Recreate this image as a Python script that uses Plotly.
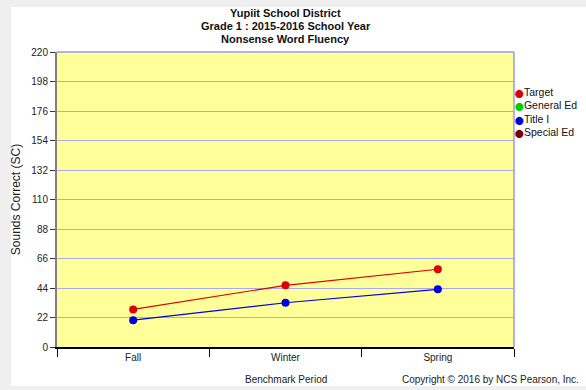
import plotly.graph_objects as go

periods = ["Fall", "Winter", "Spring"]
target = [28, 46, 58]
general_ed = [None, None, None]
title_i = [20, 33, 43]
special_ed = [None, None, None]
y_ticks = [0, 22, 44, 66, 88, 110, 132, 154, 176, 198, 220]
title_lines = ["Yupiit School District", "Grade 1 : 2015-2016 School Year", "Nonsense Word Fluency"]

series = [
    ("Target", target, "#dd0000"),
    ("General Ed", general_ed, "#00cc00"),
    ("Title I", title_i, "#0000dd"),
    ("Special Ed", special_ed, "#7a0000"),
]

L, R, T, B = 57, 72, 52, 43
PW, PH = 586 - L - R, 390 - T - B

def px(x):
    return (x - L) / PW

def py(y):
    return (390 - B - y) / PH

fig = go.Figure()
for name, vals, col in series:
    fig.add_trace(go.Scatter(
        x=periods, y=vals, mode="lines+markers", name=name,
        line=dict(color=col, width=1.2),
        marker=dict(color=col, size=8),
        showlegend=False, cliponaxis=False,
    ))

font = "Liberation Sans, Arial, sans-serif"
annotations = []
for i, t in enumerate(title_lines):
    annotations.append(dict(
        text="<b>%s</b>" % t, xref="paper", yref="paper", x=0.5, y=py(13 + 13 * i),
        xanchor="center", yanchor="middle", showarrow=False,
        font=dict(family=font, size=11, color="#111111")))
for i, (name, vals, col) in enumerate(series):
    annotations.append(dict(
        text="<span style='color:%s;font-family:DejaVu Sans;font-size:8px'>⬤</span>%s" % (col, name),
        xref="paper", yref="paper", x=px(513), y=py(92 + 13.3 * i),
        xanchor="left", yanchor="middle", showarrow=False,
        font=dict(family=font, size=10.5, color="#111111")))
annotations += [
    dict(text="Benchmark Period", xref="paper", yref="paper", x=0.5, y=py(379),
         xanchor="center", yanchor="middle", showarrow=False,
         font=dict(size=10, color="#222222")),
    dict(text="Copyright © 2016 by NCS Pearson, Inc.", xref="paper", yref="paper",
         x=px(581), y=py(379), xanchor="right", yanchor="middle", showarrow=False,
         font=dict(size=10, color="#222222")),
]

gray = "#efefef"
shapes = [
    dict(type="rect", xref="paper", yref="paper", x0=px(0), x1=px(11), y0=py(390), y1=py(0),
         fillcolor=gray, line=dict(width=0), layer="below"),
    dict(type="rect", xref="paper", yref="paper", x0=px(0), x1=px(586), y0=py(7), y1=py(0),
         fillcolor=gray, line=dict(width=0), layer="below"),
    dict(type="rect", xref="paper", yref="paper", x0=px(0), x1=px(586), y0=py(390), y1=py(386),
         fillcolor=gray, line=dict(width=0), layer="below"),
    dict(type="line", xref="paper", yref="paper", x0=1, x1=1, y0=0, y1=1,
         line=dict(color="#9999ee", width=1.5)),
    dict(type="line", xref="paper", yref="paper", x0=0, x1=1, y0=1, y1=1,
         line=dict(color="#9999ee", width=1.5)),
]

fig.update_layout(
    width=586, height=390,
    margin=dict(l=L, r=R, t=T, b=B, autoexpand=False),
    paper_bgcolor="white",
    plot_bgcolor="#ffff99",
    font=dict(family=font, size=10, color="#222222"),
    showlegend=False,
    annotations=annotations,
    shapes=shapes,
)
fig.update_xaxes(
    type="category", range=[-0.5, 2.5], tickson="boundaries",
    ticks="outside", ticklen=8, tickcolor="#000000", tickwidth=1,
    showline=True, linecolor="#000000", linewidth=1.5,
    showgrid=False, zeroline=False,
    tickfont=dict(size=10, color="#222222"),
)
fig.update_yaxes(
    range=[0, 220], tickvals=y_ticks,
    ticks="outside", ticklen=5, tickcolor="#333333",
    showline=True, linecolor="#808080", linewidth=2,
    showgrid=True, gridcolor="#aaaaee", gridwidth=1,
    zeroline=False,
    title=dict(text="Sounds Correct (SC)", font=dict(size=12, color="#222222"), standoff=8),
    tickfont=dict(size=10, color="#222222"),
)

fig.write_html("out.html")
